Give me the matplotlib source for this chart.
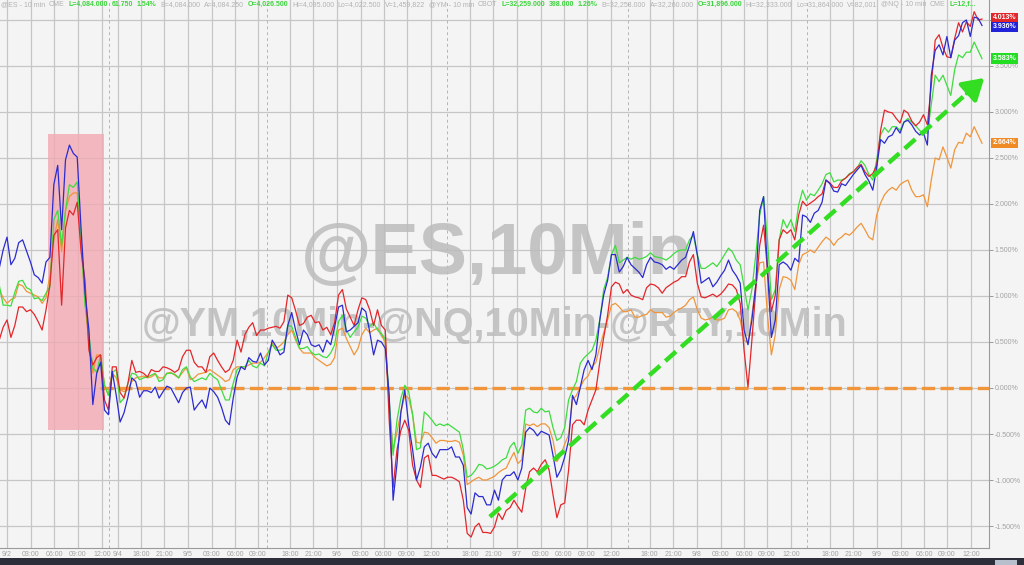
import matplotlib
matplotlib.use("Agg")
import matplotlib.pyplot as plt
import matplotlib.transforms as mtransforms
from matplotlib.patches import Rectangle

plt.rcParams['font.family'] = ['Liberation Sans', 'DejaVu Sans']

# ---------------- data (percent change) ----------------
# samples on the hour of compressed trading time, plus half-hour samples in between
hours = list(range(-1, 126))

blue = [1.30, 1.64, 1.41, 1.61, 1.37, 1.20, 1.37, 2.21, 1.72, 2.64,
        2.51, 1.03, -0.18, 0.28, -0.29, -0.08, -0.27, 0.11, -0.10, -0.03,
        0.01, -0.04, 0.00, -0.16, 0.00, -0.24, -0.13, 0.00, -0.10, -0.35,
        -0.11, 0.23, 0.33, 0.28, 0.25, 0.52, 0.36, 0.68, 0.63, 0.63,
        0.47, 0.47, 0.52, 0.66, 0.90, 0.63, 0.71, 0.83, 0.36, 0.50,
        -0.08, -0.82, -0.02, -0.67, -0.86, -0.60, -0.76, -0.67, -0.64, -0.75,
        -1.30, -1.14, -1.18, -1.27, -1.22, -0.95, -0.91, -0.87, -0.43, -0.52,
        -0.49, -0.73, -0.89, -0.57, -0.18, 0.20, 0.20, 0.74, 1.17, 1.45,
        1.32, 1.34, 1.26, 1.34, 1.37, 1.34, 1.32, 1.34, 1.42, 1.70,
        1.14, 1.20, 1.15, 1.28, 1.28, 1.14, 0.47, 1.12, 2.08, 0.55,
        1.34, 1.34, 1.41, 1.88, 1.80, 1.93, 2.26, 2.14, 2.22, 2.26,
        2.37, 2.32, 2.15, 2.70, 2.73, 2.83, 2.89, 2.86, 2.75, 2.64,
        3.67, 3.62, 3.59, 3.83, 4.00, 4.03, 3.94]
blue_half = [1.50, 1.34, 1.58, 1.49, 1.23, 1.14, 1.42, 2.42, 2.48, 2.55,
             1.72, 0.63, 0.16, -0.24, 0.18, -0.37, -0.10, 0.07, -0.03, -0.05,
             -0.11, 0.02, -0.08, -0.05, 0.01, -0.18, -0.22, -0.04, -0.21, -0.40,
             0.12, 0.20, 0.29, 0.38, 0.30, 0.45, 0.39, 0.82, 0.47, 0.58,
             0.45, 0.39, 0.47, 0.88, 0.61, 0.67, 0.87, 0.61, 0.52, 0.43,
             -1.22, -0.26, -0.40, -1.00, -0.64, -0.71, -0.67, -0.67, -0.75, -0.84,
             -1.37, -1.18, -1.27, -1.11, -1.00, -0.95, -1.00, -0.48, -0.46, -0.47,
             -0.51, -0.97, -0.75, -0.08, 0.01, 0.30, 0.36, 1.01, 1.45, 1.26,
             1.42, 1.30, 1.20, 1.42, 1.36, 1.29, 1.29, 1.39, 1.55, 1.45,
             1.17, 1.10, 1.22, 1.39, 1.22, 0.63, 0.74, 1.93, 1.28, 0.74,
             1.37, 1.28, 1.37, 1.86, 1.90, 2.02, 2.22, 2.13, 2.20, 2.32,
             2.42, 2.25, 2.40, 2.66, 2.75, 2.77, 2.91, 2.79, 2.77, 3.40,
             3.73, 3.82, 3.78, 3.97, 3.82, 4.02]

red = [0.52, 0.74, 0.68, 0.88, 0.85, 0.72, 0.85, 1.66, 0.90, 1.93,
       2.02, 1.17, 0.25, 0.36, -0.24, 0.23, -0.11, 0.30, 0.18, 0.12,
       0.18, 0.23, 0.20, 0.20, 0.41, 0.28, 0.23, 0.34, 0.30, 0.17,
       0.30, 0.39, 0.66, 0.57, 0.63, 0.66, 0.65, 1.01, 0.84, 0.70,
       0.79, 0.72, 0.66, 0.71, 1.07, 0.77, 0.85, 0.96, 0.68, 0.68,
       -0.35, -0.67, -0.35, -0.84, -1.08, -0.73, -0.95, -0.99, -0.97, -1.02,
       -1.58, -1.51, -1.57, -1.58, -1.36, -1.33, -1.22, -1.35, -0.91, -0.91,
       -0.78, -1.16, -1.27, -0.89, -0.35, -0.40, -0.13, 0.28, 0.79, 1.15,
       1.03, 1.01, 0.98, 1.09, 1.12, 1.03, 1.12, 1.17, 1.21, 1.45,
       0.99, 1.00, 0.99, 1.07, 1.12, 0.92, 0.01, 1.07, 1.77, 0.83,
       1.61, 1.68, 1.61, 2.03, 2.01, 2.08, 2.26, 2.18, 2.25, 2.32,
       2.40, 2.35, 2.33, 2.80, 3.00, 2.93, 3.02, 2.90, 2.89, 2.86,
       3.78, 3.70, 3.59, 3.97, 3.98, 4.09, 4.01]
red_half = [0.66, 0.55, 0.88, 0.83, 0.80, 0.63, 1.12, 1.72, 1.74, 1.88,
            1.48, 0.41, 0.33, -0.13, 0.23, -0.05, 0.05, 0.17, 0.16, 0.20,
            0.18, 0.22, 0.17, 0.34, 0.41, 0.23, 0.17, 0.38, 0.23, 0.20,
            0.52, 0.58, 0.71, 0.63, 0.65, 0.67, 0.72, 0.98, 0.68, 0.77,
            0.71, 0.63, 0.58, 1.01, 0.86, 0.68, 0.98, 0.85, 0.85, 0.63,
            -1.08, -0.46, -0.46, -1.00, -0.76, -0.95, -0.97, -0.97, -0.99, -1.22,
            -1.62, -1.47, -1.57, -1.51, -1.43, -1.30, -1.29, -1.09, -0.87, -0.83,
            -0.89, -1.41, -1.25, -0.40, -0.35, -0.24, -0.02, 0.55, 1.10, 1.13,
            1.07, 0.99, 0.96, 1.13, 1.09, 1.09, 1.15, 1.21, 1.37, 1.14,
            0.98, 1.02, 1.02, 1.13, 1.07, 0.41, 0.52, 1.55, 1.28, 1.01,
            1.72, 1.72, 1.88, 1.98, 2.04, 2.11, 2.23, 2.18, 2.28, 2.35,
            2.43, 2.30, 2.42, 3.02, 2.99, 2.88, 2.99, 2.85, 2.97, 3.29,
            3.84, 3.60, 3.80, 3.87, 3.93, 4.00]

green = [1.12, 0.90, 1.04, 1.17, 1.07, 0.98, 1.03, 1.83, 1.55, 2.21,
         2.24, 0.90, 0.22, 0.36, -0.08, 0.20, -0.11, 0.16, 0.09, 0.12,
         0.16, 0.09, 0.16, 0.11, 0.23, 0.07, 0.11, 0.16, 0.09, -0.13,
         0.05, 0.23, 0.30, 0.22, 0.24, 0.47, 0.41, 0.68, 0.55, 0.43,
         0.39, 0.37, 0.33, 0.47, 0.79, 0.55, 0.66, 0.76, 0.71, 0.59,
         -0.13, -0.35, 0.03, -0.29, -0.65, -0.30, -0.41, -0.41, -0.42, -0.48,
         -0.97, -0.90, -0.84, -0.87, -0.82, -0.76, -0.59, -0.62, -0.22, -0.27,
         -0.26, -0.43, -0.54, -0.13, 0.07, 0.33, 0.41, 0.74, 1.20, 1.55,
         1.39, 1.40, 1.40, 1.43, 1.43, 1.41, 1.42, 1.49, 1.50, 1.66,
         1.30, 1.33, 1.32, 1.45, 1.48, 1.34, 0.85, 1.45, 2.08, 0.96,
         1.61, 1.74, 1.70, 2.15, 2.11, 2.15, 2.32, 2.24, 2.26, 2.33,
         2.39, 2.42, 2.26, 2.75, 2.78, 2.84, 2.89, 2.89, 2.80, 2.77,
         3.40, 3.40, 3.18, 3.62, 3.65, 3.76, 3.58]
green_half = [0.90, 0.89, 1.16, 1.09, 0.97, 0.95, 1.10, 1.93, 1.93, 2.18,
              1.61, 0.58, 0.17, 0.03, 0.17, -0.16, 0.05, 0.15, 0.11, 0.14,
              0.07, 0.16, 0.15, 0.20, 0.12, 0.09, 0.09, 0.12, -0.02, -0.13,
              0.20, 0.23, 0.24, 0.27, 0.39, 0.41, 0.43, 0.67, 0.43, 0.45,
              0.36, 0.34, 0.38, 0.72, 0.63, 0.61, 0.78, 0.67, 0.63, 0.53,
              -0.73, -0.11, -0.04, -0.67, -0.26, -0.35, -0.39, -0.39, -0.45, -0.67,
              -0.95, -0.83, -0.88, -0.85, -0.78, -0.64, -0.71, -0.24, -0.26, -0.22,
              -0.25, -0.57, -0.43, -0.02, 0.27, 0.37, 0.52, 1.07, 1.45, 1.36,
              1.42, 1.42, 1.41, 1.47, 1.42, 1.39, 1.46, 1.50, 1.61, 1.45,
              1.30, 1.36, 1.38, 1.52, 1.39, 1.10, 1.07, 1.88, 1.61, 1.07,
              1.83, 1.83, 1.99, 2.04, 2.09, 2.22, 2.34, 2.26, 2.28, 2.35,
              2.47, 2.32, 2.48, 2.83, 2.84, 2.80, 2.93, 2.85, 2.77, 3.08,
              3.33, 3.29, 3.46, 3.59, 3.65, 3.67]

orange = [1.07, 0.92, 0.98, 1.11, 1.03, 0.99, 0.98, 1.61, 1.48, 2.08,
          2.12, 0.96, 0.16, 0.36, -0.08, 0.11, -0.04, 0.07, 0.12, 0.11,
          0.15, 0.11, 0.17, 0.11, 0.22, 0.11, 0.16, 0.20, 0.14, 0.07,
          0.20, 0.23, 0.25, 0.27, 0.33, 0.49, 0.46, 0.58, 0.52, 0.38,
          0.38, 0.30, 0.24, 0.33, 0.65, 0.45, 0.43, 0.65, 0.63, 0.58,
          -0.18, -0.48, -0.08, -0.29, -0.60, -0.49, -0.60, -0.57, -0.58, -0.59,
          -1.05, -0.99, -1.00, -0.98, -0.92, -0.87, -0.70, -0.78, -0.41, -0.42,
          -0.39, -0.57, -0.73, -0.51, -0.08, 0.09, 0.23, 0.45, 0.74, 0.92,
          0.83, 0.85, 0.77, 0.80, 0.82, 0.82, 0.78, 0.85, 0.90, 0.99,
          0.76, 0.75, 0.74, 0.76, 0.86, 0.74, 0.49, 1.12, 1.37, 0.36,
          1.07, 1.20, 1.07, 1.45, 1.50, 1.53, 1.64, 1.55, 1.64, 1.66,
          1.75, 1.72, 1.61, 2.01, 2.15, 2.15, 2.24, 2.15, 2.08, 1.97,
          2.50, 2.62, 2.39, 2.67, 2.77, 2.84, 2.66]
orange_half = [0.98, 0.96, 1.13, 1.05, 1.01, 0.92, 1.23, 1.83, 1.93, 2.12,
               1.55, 0.47, 0.36, 0.03, 0.16, -0.02, -0.02, 0.11, 0.13, 0.12,
               0.11, 0.16, 0.14, 0.17, 0.09, 0.15, 0.17, 0.17, 0.11, 0.09,
               0.23, 0.23, 0.27, 0.28, 0.39, 0.43, 0.50, 0.63, 0.43, 0.38,
               0.33, 0.27, 0.26, 0.63, 0.54, 0.36, 0.58, 0.60, 0.65, 0.49,
               -0.67, -0.26, -0.11, -0.59, -0.48, -0.54, -0.57, -0.58, -0.57, -0.73,
               -1.02, -0.97, -1.00, -0.96, -0.89, -0.78, -0.82, -0.39, -0.39, -0.39,
               -0.43, -0.80, -0.61, -0.13, 0.01, 0.13, 0.28, 0.60, 0.90, 0.88,
               0.83, 0.77, 0.79, 0.85, 0.82, 0.77, 0.82, 0.87, 0.96, 0.85,
               0.74, 0.77, 0.74, 0.85, 0.83, 0.52, 0.79, 1.36, 0.79, 0.58,
               1.21, 1.17, 1.34, 1.47, 1.47, 1.59, 1.61, 1.61, 1.68, 1.70,
               1.79, 1.64, 1.88, 2.10, 2.18, 2.21, 2.26, 2.08, 2.10, 2.26,
               2.48, 2.51, 2.59, 2.66, 2.73, 2.75]

last_values = [4.013, 3.936, 3.583, 2.664]   # red, blue, green, orange

tick_pos = [0.0, 3.08, 6.03, 9.1, 12.18, 14.23, 17.18, 20.13, 23.2, 26.28,
            29.23, 32.18, 36.28, 39.23, 42.3, 45.38, 48.33, 51.28, 54.36, 59.36,
            62.3, 65.38, 68.46, 71.4, 74.36, 77.44, 82.4, 85.4, 88.46, 91.5,
            94.5, 97.4, 100.5, 105.5, 108.5, 111.5, 114.6, 117.6, 120.5, 123.6]
tick_labels = ["9/2", "03:00", "06:00", "09:00", "12:00", "9/4", "18:00", "21:00", "9/5", "03:00",
               "06:00", "09:00", "18:00", "21:00", "9/6", "03:00", "06:00", "09:00", "12:00", "18:00",
               "21:00", "9/7", "03:00", "06:00", "09:00", "12:00", "18:00", "21:00", "9/8", "03:00",
               "06:00", "09:00", "12:00", "18:00", "21:00", "9/9", "03:00", "06:00", "09:00", "12:00"]
session_breaks = [13.08, 33.33, 56.4, 79.6, 102.6]
y_ticks = [-1.5, -1.0, -0.5, 0.0, 0.5, 1.0, 1.5, 2.0, 2.5, 3.0, 3.5, 4.0]
y_hidden_label = 4.0   # covered by the last-value boxes in the original

highlight_x = [5.3, 12.4]
highlight_y = [-0.46, 2.76]
zero_line_start = 11.9
arrow_start = [61.9, -1.40]
arrow_end = [125.3, 3.37]

header_segments = [
    ("@ES - 10 min", 0), ("CME", 0), ("L=4,084.000", 1), ("61.750", 1), ("1.54%", 1),
    ("B=4,084.000", 0), ("A=4,084.250", 0), ("O=4,026.500", 1), ("Hi=4,095.000", 0),
    ("Lo=4,022.500", 0), ("V=1,459,822", 0), ("@YM - 10 min", 0), ("CBOT", 0),
    ("L=32,259.000", 1), ("398.000", 1), ("1.26%", 1), ("B=32,258.000", 0),
    ("A=32,260.000", 0), ("O=31,896.000", 1), ("Hi=32,333.000", 0), ("Lo=31,864.000", 0),
    ("V=82,001", 0), ("@NQ - 10 min", 0), ("CME", 0), ("L=12,f...", 1)]


def merge(on_hour, half_hour):
    xs, ys = [], []
    for i, h in enumerate(hours):
        xs.append(h)
        ys.append(on_hour[i])
        if i < len(half_hour):
            xs.append(h + 0.5)
            ys.append(half_hour[i])
    return xs, ys


# ---------------- styling ----------------
BG = '#f4f4f4'
C_RED = '#e3262a'
C_BLUE = '#2b2bd0'
C_GREEN = '#3fdc3f'
C_ORANGE = '#f0953a'
GRID = '#c6c6c6'
TXT = '#a2a2a2'

W, H = 1024, 565
fig = plt.figure(figsize=(W / 100, H / 100), dpi=100, facecolor=BG)
ax = fig.add_axes([0, 17 / H, 989 / W, 548 / H], facecolor=BG)
ax.set_xlim(-0.9, 125.9)
ax.set_ylim(-1.739, 4.217)

# grid
ax.set_axisbelow(True)
ax.set_xticks(tick_pos)
ax.set_xticklabels(tick_labels)
ax.set_yticks(y_ticks)
ax.set_yticklabels(["" if v == y_hidden_label else f"{v:.3f}%" for v in y_ticks])
ax.grid(True, color=GRID, lw=0.9)
for b in session_breaks:
    ax.axvline(b, color='#b5b5b5', lw=0.7, ls=(0, (3, 3)), zorder=0.6)

ax.yaxis.tick_right()
ax.tick_params(axis='x', length=0, pad=2, labelsize=5, labelcolor=TXT)
ax.tick_params(axis='y', length=3, width=0.7, color='#999999', pad=1, labelsize=5, labelcolor=TXT)
for s in ['left', 'top']:
    ax.spines[s].set_visible(False)
for s in ['right', 'bottom']:
    ax.spines[s].set_color('#9a9a9a')
    ax.spines[s].set_linewidth(0.8)

# watermarks
ax.text(0.5025, 0.535, "@ES,10Min", transform=ax.transAxes, ha='center', va='center',
        fontsize=52, fontweight='bold', color='#bcbcbc', alpha=0.85, zorder=1)
ax.text(0.50, 0.407, "@YM,10Min-@NQ,10Min-@RTY,10Min", transform=ax.transAxes,
        ha='center', va='center', fontsize=28.5, fontweight='bold', color='#bcbcbc',
        alpha=0.85, zorder=1)

# highlight box
ax.add_patch(Rectangle((highlight_x[0], highlight_y[0]), highlight_x[1] - highlight_x[0],
                       highlight_y[1] - highlight_y[0], facecolor='#f3aab2', alpha=0.8,
                       edgecolor='none', zorder=1.5))

# zero line
ax.hlines(0, zero_line_start, 125.9, colors=C_ORANGE, lw=2.4, linestyles=(0, (4, 1.6)),
          zorder=2.5, clip_on=False)

# series
for on_hour, half_hour, col, z in [(orange, orange_half, C_ORANGE, 3.0),
                                   (green, green_half, C_GREEN, 3.1),
                                   (red, red_half, C_RED, 3.2),
                                   (blue, blue_half, C_BLUE, 3.3)]:
    xs, ys = merge(on_hour, half_hour)
    ax.plot(xs, ys, color=col, lw=0.9, zorder=z)

# green dashed trend arrow
frac = 0.965
mid = [arrow_start[0] + frac * (arrow_end[0] - arrow_start[0]),
       arrow_start[1] + frac * (arrow_end[1] - arrow_start[1])]
ax.plot([arrow_start[0], mid[0]], [arrow_start[1], mid[1]], color='#33dd22', lw=3.2,
        ls=(0, (3.2, 1.6)), zorder=4, solid_capstyle='butt', dash_capstyle='butt')
ax.annotate('', xy=arrow_end, xytext=mid,
            arrowprops=dict(arrowstyle='-|>,head_length=0.9,head_width=0.55', color='#33dd22',
                            lw=3.2, mutation_scale=14, shrinkA=0, shrinkB=0), zorder=4)

# last value boxes
trans = mtransforms.blended_transform_factory(ax.transAxes, ax.transData)
box_cols = [C_RED, '#2222d8', '#22dd22', '#f08a24']
box_shift = [0.7, -0.7, 0, 0]
for val, col, dy in zip(last_values, box_cols, box_shift):
    ax.annotate(f"{val:.3f}%", xy=(1.0035, val), xycoords=trans, xytext=(0, dy),
                textcoords='offset points', ha='left', va='center',
                fontsize=5, color='white', fontweight='bold', annotation_clip=False, zorder=6,
                bbox=dict(boxstyle='square,pad=0.25', fc=col, ec='none'))

# header line
prev = None
for txt, hi in header_segments:
    col = '#3cd63c' if hi else '#b2b2b2'
    fw = 'bold' if hi else 'normal'
    if prev is None:
        prev = ax.annotate(txt, xy=(1 / W, 1 - 4.5 / H), xycoords='figure fraction',
                           ha='left', va='center', fontsize=5, color=col, fontweight=fw,
                           annotation_clip=False, zorder=7)
    else:
        prev = ax.annotate(txt, xy=(1, 0.5), xycoords=prev, xytext=(2.7, 0),
                           textcoords='offset points', ha='left', va='center', fontsize=5,
                           color=col, fontweight=fw, annotation_clip=False, zorder=7)

# dark footer strip
fig.patches.append(Rectangle((0, 0), 1, 7 / H, transform=fig.transFigure,
                             facecolor='#2c2f3a', edgecolor='none'))
fig.patches.append(Rectangle((995 / W, 0), 22 / W, 5 / H, transform=fig.transFigure,
                             facecolor='#b8bfcc', edgecolor='none'))

fig.savefig("out.png", dpi=100, facecolor=BG)
